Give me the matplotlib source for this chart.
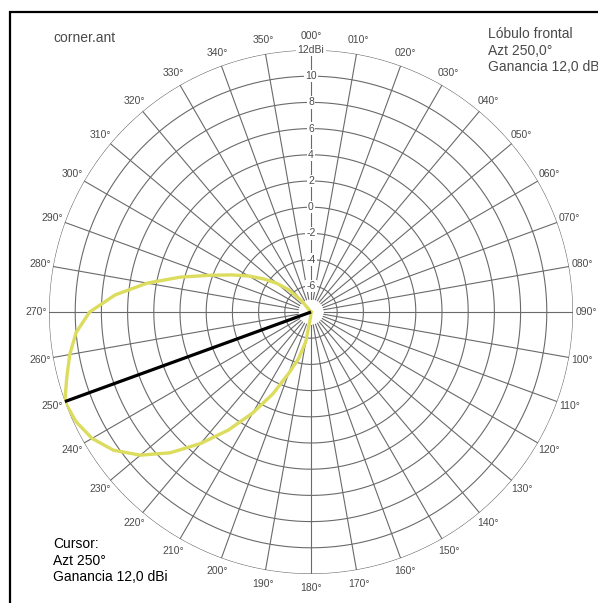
import numpy as np
import matplotlib
matplotlib.use('Agg')
import matplotlib.pyplot as plt
from matplotlib.patches import Rectangle

plt.rcParams['font.family'] = ['Liberation Sans', 'DejaVu Sans']

# front lobe: azimuth [deg] / gain [dBi]
# (everywhere else the pattern stays below -8 dBi, i.e. at the centre)
lobe_az = [180, 185, 190, 195, 200, 205, 210, 215, 220, 225, 230, 235, 240,
           245, 250, 255, 260, 265, 270, 275, 280, 285, 290, 295, 300, 305,
           310, 315, 320, 325]
lobe_gain = [-8.0, -7.6, -5.7, -4.3, -3.0, -1.1, 0.9, 3.0, 5.1, 7.2, 9.0, 10.4,
             11.3, 11.8, 12.0, 11.3, 10.7, 10.0, 8.9, 7.0, 4.7, 2.3, 0.2, -1.3,
             -2.5, -3.6, -4.6, -5.6, -6.9, -8.0]

ring_gains = [12, 10, 8, 6, 4, 2, 0, -2, -4, -6]
ring_labels = ['12dBi', '10', '8', '6', '4', '2', '0', '-2', '-4', '-6']
spoke_az = list(range(0, 360, 10))

cursor_az = 250
cursor_gain = 12.0
file_name = 'corner.ant'

gmin, gmax = -8, 12
grid_c = '#6a6a6a'
text_c = '#4a4a4a'

W, H = 598, 603
cx, cy, R = 311, 312, 262

fig = plt.figure(figsize=(W / 100, H / 100), dpi=100)
ax = fig.add_axes([(cx - R) / W, (H - cy - R) / H, 2 * R / W, 2 * R / H],
                  projection='polar')
ax.set_theta_zero_location('N')
ax.set_theta_direction(-1)
ax.set_rlim(gmin, gmax)
ax.set_xticks([])
ax.set_yticks([])
ax.grid(False)
ax.spines['polar'].set_visible(False)

th = np.linspace(0, 2 * np.pi, 721)
for g in ring_gains:
    ax.plot(th, np.full_like(th, g), color=grid_c, lw=0.8, zorder=1)
for a in spoke_az:
    t = np.radians(a)
    ax.plot([t, t], [-7.0, gmax], color=grid_c, lw=0.8, zorder=1)

for g, lab in zip(ring_gains, ring_labels):
    ax.text(0, g, lab, ha='center', va='center', fontsize=7.5, color=text_c,
            bbox=dict(boxstyle='square,pad=0.12', fc='white', ec='none'),
            zorder=3)

for a in spoke_az:
    t = np.radians(a)
    ax.annotate(f'{a:03d}°', xy=(t, gmax),
                xytext=(9.5 * np.sin(t), 10.0 * np.cos(t)),
                textcoords='offset points', ha='center', va='center',
                fontsize=7.5, color=text_c, annotation_clip=False)

ax.plot(np.radians(lobe_az), lobe_gain, color='#dcdc5e', lw=2.4, zorder=4,
        solid_joinstyle='round')
ax.plot([np.radians(cursor_az)] * 2, [gmin, cursor_gain], color='black',
        lw=2.3, zorder=5, solid_capstyle='butt')

# frame (only left and top edges fall inside the picture)
fig.add_artist(Rectangle((9.5 / W, -0.1), 1.2, 1 - 12 / H + 0.1,
                         transform=fig.transFigure, fill=False,
                         ec='black', lw=1.6))

fig.text(53 / W, 1 - 31 / H, file_name, ha='left', va='top',
         fontsize=10, color=text_c)

peak = max(lobe_gain)
info_top = ['Lóbulo frontal',
            f'Azt {cursor_az:.1f}°'.replace('.', ','),
            f'Ganancia {peak:.1f} dBi'.replace('.', ',')]
for i, s in enumerate(info_top):
    fig.text(488 / W, 1 - (27 + 16.7 * i) / H, s, ha='left', va='top',
             fontsize=10, color=text_c)

info_cursor = ['Cursor:',
               f'Azt {cursor_az}°',
               f'Ganancia {cursor_gain:.1f} dBi'.replace('.', ',')]
for i, s in enumerate(info_cursor):
    fig.text(53 / W, 1 - (537 + 16.7 * i) / H, s, ha='left', va='top',
             fontsize=10, color='black')

fig.savefig('out.png', dpi=100, facecolor='white')
